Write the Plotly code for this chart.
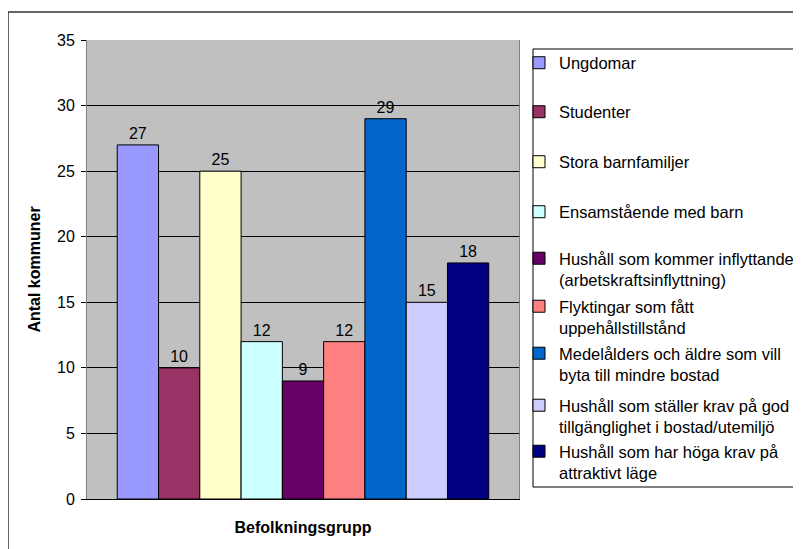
import plotly.graph_objects as go

groups = [
    "Ungdomar",
    "Studenter",
    "Stora barnfamiljer",
    "Ensamstående med barn",
    "Hushåll som kommer inflyttande<br>(arbetskraftsinflyttning)",
    "Flyktingar som fått<br>uppehållstillstånd",
    "Medelålders och äldre som vill<br>byta till mindre bostad",
    "Hushåll som ställer krav på god<br>tillgänglighet i bostad/utemiljö",
    "Hushåll som har höga krav på<br>attraktivt läge",
]
values = [27, 10, 25, 12, 9, 12, 29, 15, 18]
colors = ["#9999FF", "#993366", "#FFFFCC", "#CCFFFF", "#660066",
          "#FF8080", "#0066CC", "#CCCCFF", "#000080"]
category = ["Befolkningsgrupp"]
y_ticks = [0, 5, 10, 15, 20, 25, 30, 35]

# legend entry centres (screen pixels from top) – layout only
legend_py = [63, 112, 162, 212, 269, 317, 364, 416, 462]

FONT = "Arial, Liberation Sans, sans-serif"
OFF = 8  # page body margin offset
W, H = 801, 549
# plot area in screen pixels
SL, SR, ST, SB = 87, 519, 40, 499
PL, PR, PT, PB = SL - OFF, SR - OFF, ST - OFF, SB - OFF


def px_x(sx):
    return (sx - SL) / (SR - SL)


def px_y(sy):
    return (SB - sy) / (SB - ST)


fig = go.Figure()
layout_legends = {}
for i, (g, v, c) in enumerate(zip(groups, values, colors)):
    lname = "legend" if i == 0 else f"legend{i + 1}"
    fig.add_trace(go.Bar(
        x=category, y=[v], name=g,
        marker=dict(color=c, line=dict(color="#000000", width=1)),
        text=[v], texttemplate="%{y}", textposition="outside",
        textfont=dict(family=FONT, size=16, color="#000000"),
        cliponaxis=False, legend=lname, hoverinfo="name+y",
    ))
    layout_legends[lname] = dict(
        x=px_x(519), y=px_y(legend_py[i]), xanchor="left", yanchor="middle",
        bgcolor="rgba(0,0,0,0)", borderwidth=0, valign="top",
        font=dict(family=FONT, size=16.5, color="#000000"),
        itemclick=False, itemdoubleclick=False,
    )

fig.update_layout(
    width=W, height=H,
    margin=dict(l=PL, r=W - PR, t=PT, b=H - PB, autoexpand=False),
    paper_bgcolor="#FFFFFF",
    plot_bgcolor="#C0C0C0",
    barmode="group",
    bargap=0.14,
    bargroupgap=0,
    showlegend=True,
    font=dict(family=FONT, size=16, color="#000000"),
    **layout_legends,
)

fig.update_yaxes(
    range=[0, 35], tickvals=y_ticks, ticktext=[str(t) for t in y_ticks],
    showgrid=True, gridcolor="#000000", gridwidth=1,
    ticks="outside", ticklen=5, tickcolor="#000000", tickwidth=1,
    ticklabelstandoff=3,
    showline=True, linecolor="#808080", linewidth=1, mirror=True,
    zeroline=False,
    tickfont=dict(family=FONT, size=16, color="#000000"),
    title=dict(text="<b>Antal kommuner</b>", standoff=12,
               font=dict(family=FONT, size=16, color="#000000")),
)
fig.update_xaxes(
    showticklabels=False, ticks="",
    showline=True, linecolor="#000000", linewidth=1,
    title=dict(text="<b>Befolkningsgrupp</b>", standoff=22,
               font=dict(family=FONT, size=16, color="#000000")),
)

# legend frame and outer chart frame
fig.add_shape(type="rect", xref="paper", yref="paper",
              x0=px_x(533), x1=px_x(812), y0=px_y(487), y1=px_y(49),
              line=dict(color="#000000", width=1), layer="above")
fig.add_shape(type="rect", xref="paper", yref="paper",
              x0=px_x(8), x1=px_x(815), y0=px_y(565), y1=px_y(12),
              line=dict(color="#333333", width=1.5), layer="above")

fig.write_html("out.html")
